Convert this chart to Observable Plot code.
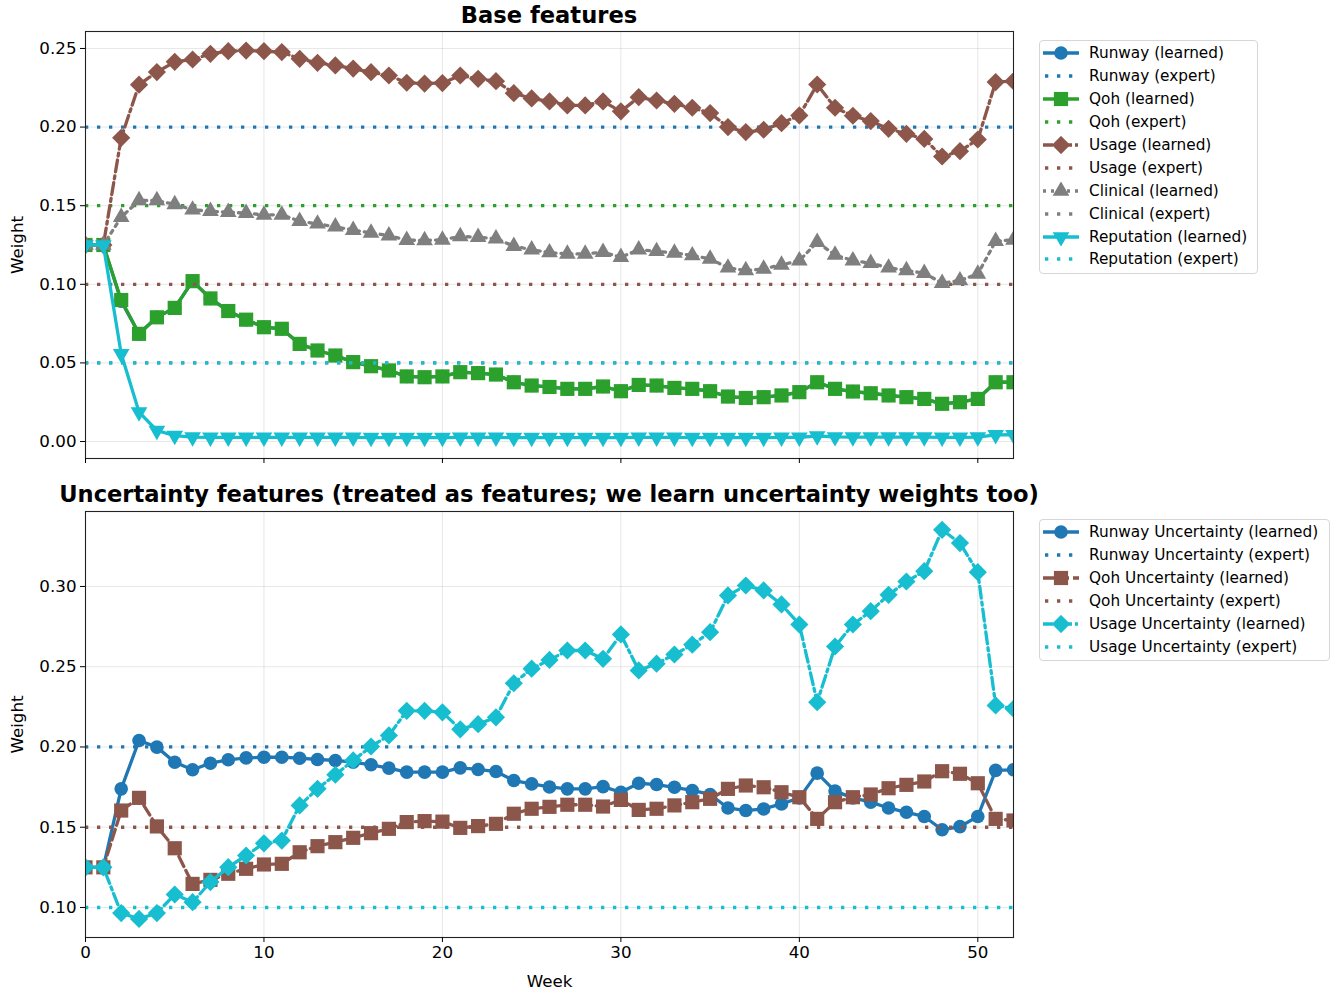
<!DOCTYPE html>
<html><head><meta charset="utf-8">
<script src="https://cdn.jsdelivr.net/npm/d3@7"></script>
<script src="https://cdn.jsdelivr.net/npm/@observablehq/plot@0.6"></script>
<style>
body{margin:0;background:#fff;font-family:"DejaVu Sans",sans-serif;}
#wrap{position:relative;width:1337px;height:994px;overflow:hidden;background:#fff;}
#wrap > svg, #wrap > figure{position:absolute;left:0;margin:0;}
.title{position:absolute;font-weight:bold;font-size:22.6px;white-space:nowrap;transform:translate(-50%,-50%);line-height:1;}
.legend{position:absolute;border:1px solid #d6d6d6;border-radius:4px;background:rgba(255,255,255,0.8);box-sizing:border-box;padding-top:1px;}
.row{display:flex;align-items:center;height:22.9px;font-size:15.3px;white-space:nowrap;color:#000;}
.row svg{margin-left:3px;margin-right:10px;flex:none;}
</style></head><body><div id="wrap"></div>
<script>
const weeks = [0,1,2,3,4,5,6,7,8,9,10,11,12,13,14,15,16,17,18,19,20,21,22,23,24,25,26,27,28,29,30,31,32,33,34,35,36,37,38,39,40,41,42,43,44,45,46,47,48,49,50,51,52];

// Base features (learned)
const runwayLearned = [0.125,0.125,0.0893,0.0685,0.079,0.085,0.102,0.091,0.083,0.0775,0.0727,0.0717,0.0621,0.0579,0.0547,0.0505,0.0479,0.0452,0.0414,0.0409,0.0414,0.0441,0.0435,0.0426,0.0377,0.0356,0.0347,0.0335,0.0335,0.035,0.032,0.036,0.0356,0.0341,0.0335,0.032,0.0286,0.0277,0.0282,0.0293,0.0314,0.0377,0.0335,0.0318,0.0307,0.0293,0.0282,0.0271,0.024,0.025,0.0271,0.0377,0.0377];
const qohLearned = [0.125,0.125,0.090,0.0685,0.079,0.085,0.102,0.091,0.083,0.0775,0.0727,0.0717,0.0621,0.0579,0.0547,0.0505,0.0479,0.0452,0.0414,0.0409,0.0414,0.0441,0.0435,0.0426,0.0377,0.0356,0.0347,0.0335,0.0335,0.035,0.032,0.036,0.0356,0.0341,0.0335,0.032,0.0286,0.0277,0.0282,0.0293,0.0314,0.0377,0.0335,0.0318,0.0307,0.0293,0.0282,0.0271,0.024,0.025,0.0271,0.0377,0.0377];
const usageLearned = [0.125,0.125,0.1932,0.227,0.235,0.2415,0.243,0.2466,0.2483,0.2487,0.2483,0.2477,0.2434,0.2409,0.2392,0.2372,0.2349,0.2328,0.2282,0.2277,0.228,0.2328,0.2307,0.2292,0.2216,0.2182,0.2163,0.2138,0.2138,0.2163,0.2100,0.219,0.2169,0.2148,0.2123,0.2089,0.2000,0.1968,0.1983,0.2025,0.2074,0.2271,0.2123,0.2072,0.2038,0.1989,0.1957,0.1925,0.1813,0.1847,0.1921,0.2286,0.2292];
const clinicalLearned = [0.125,0.125,0.1427,0.1533,0.1533,0.1508,0.1474,0.1465,0.1459,0.1452,0.1442,0.1442,0.1401,0.1385,0.1366,0.1345,0.1327,0.131,0.1281,0.1279,0.1283,0.1304,0.13,0.129,0.1243,0.122,0.1202,0.1193,0.1193,0.1204,0.1172,0.122,0.121,0.12,0.1183,0.1162,0.1105,0.1088,0.1098,0.1124,0.1151,0.1268,0.1187,0.1151,0.1134,0.1105,0.1088,0.1071,0.1007,0.1024,0.1066,0.1274,0.1283];
const reputationLearned = [0.125,0.125,0.0558,0.0187,0.007,0.0038,0.0028,0.0027,0.0027,0.0026,0.0026,0.0026,0.0026,0.0026,0.0026,0.0026,0.0025,0.0025,0.0025,0.0025,0.0025,0.0026,0.0026,0.0026,0.0025,0.0025,0.0025,0.0025,0.0025,0.0025,0.0025,0.0026,0.0026,0.0026,0.0025,0.0025,0.0025,0.0025,0.0025,0.0026,0.0027,0.0035,0.0029,0.0028,0.0028,0.0028,0.0028,0.0028,0.0027,0.0027,0.0028,0.0042,0.0043];
// Base features (expert)
const baseExpert = {runway:0.20, qoh:0.15, usage:0.10, clinical:0.05, reputation:0.05};

// Uncertainty features (learned)
const runwayUncLearned = [0.125,0.125,0.1739,0.204,0.1999,0.1905,0.1858,0.1899,0.192,0.1932,0.1936,0.1936,0.193,0.1922,0.1916,0.1905,0.1889,0.1868,0.1843,0.1843,0.1843,0.187,0.186,0.1847,0.1791,0.177,0.1751,0.1739,0.1739,0.1753,0.1718,0.1774,0.1766,0.1749,0.1729,0.1704,0.162,0.1604,0.1614,0.1645,0.1683,0.1837,0.1725,0.1683,0.1656,0.162,0.1593,0.1567,0.1484,0.1504,0.1567,0.1854,0.1858];
const qohUncLearned = [0.125,0.125,0.1604,0.1683,0.1505,0.1369,0.1147,0.1172,0.121,0.1241,0.1268,0.1272,0.1344,0.1382,0.1407,0.1434,0.1463,0.149,0.1532,0.1538,0.1535,0.1496,0.1507,0.1521,0.1584,0.1615,0.1627,0.164,0.164,0.1629,0.167,0.1608,0.1615,0.1636,0.1656,0.1677,0.1739,0.176,0.1749,0.1718,0.1687,0.1552,0.1656,0.1687,0.1704,0.1743,0.1764,0.1785,0.1849,0.1833,0.1774,0.1552,0.1542];
const usageUncLearned = [0.125,0.125,0.0965,0.0929,0.0965,0.1081,0.1033,0.1158,0.1251,0.1324,0.14,0.1417,0.1636,0.1739,0.1827,0.1916,0.2003,0.2072,0.2225,0.2225,0.2216,0.211,0.2142,0.2185,0.2397,0.2488,0.2542,0.2601,0.2601,0.2549,0.2701,0.2477,0.2519,0.2576,0.2637,0.2715,0.2944,0.3006,0.2975,0.2888,0.2763,0.2279,0.2626,0.2763,0.2846,0.2948,0.3031,0.3095,0.3353,0.327,0.3089,0.2259,0.2238];
// Uncertainty features (expert)
const uncExpert = {runway:0.20, qoh:0.15, usage:0.10};

const xTicks = [0,10,20,30,40,50];
const yTicksTop = [0,0.05,0.10,0.15,0.20,0.25];
const yTicksBottom = [0.10,0.15,0.20,0.25,0.30];

const C = {blue:"#1f77b4", green:"#2ca02c", brown:"#8c564b", gray:"#7f7f7f", cyan:"#17becf"};
const LW = 3.3;
const DASH = {solid:null, dashdot:"12,4,3,4", dotted:"3,5", dashed:"11,4.5"};
const EXPERT_DASH = "3.3,8.7";
const SYM = {circle:{symbol:"circle", r:6.8}, square:{symbol:"square", r:8.0}, diamond:{symbol:"diamond2", r:8.2}, tri:{symbol:"triangle", r:6.2, rotate:0}, triDown:{symbol:"triangle", r:6.2, rotate:180}};

const baseSeries = [
  {name:"Runway", vals:runwayLearned, color:C.blue, dash:"solid", sym:"circle", expert:baseExpert.runway},
  {name:"Qoh", vals:qohLearned, color:C.green, dash:"solid", sym:"square", expert:baseExpert.qoh},
  {name:"Usage", vals:usageLearned, color:C.brown, dash:"dashdot", sym:"diamond", expert:baseExpert.usage},
  {name:"Clinical", vals:clinicalLearned, color:C.gray, dash:"dotted", sym:"tri", expert:baseExpert.clinical},
  {name:"Reputation", vals:reputationLearned, color:C.cyan, dash:"solid", sym:"triDown", expert:baseExpert.reputation}
];
const uncSeries = [
  {name:"Runway Uncertainty", vals:runwayUncLearned, color:C.blue, dash:"solid", sym:"circle", expert:uncExpert.runway},
  {name:"Qoh Uncertainty", vals:qohUncLearned, color:C.brown, dash:"dashed", sym:"square", expert:uncExpert.qoh},
  {name:"Usage Uncertainty", vals:usageUncLearned, color:C.cyan, dash:"dashdot", sym:"diamond", expert:uncExpert.usage}
];

function seriesMarks(series) {
  const marks = [];
  for (const s of series) {
    const data = weeks.map((w, i) => ({week: w, weight: s.vals[i]}));
    marks.push(Plot.line(data, {x:"week", y:"weight", stroke:s.color, strokeWidth:LW, strokeDasharray:DASH[s.dash], strokeLinejoin:"round", clip:true}));
    const sy = SYM[s.sym];
    marks.push(Plot.dot(data, {x:"week", y:"weight", symbol:sy.symbol, r:sy.r, rotate:sy.rotate ?? 0, fill:s.color, stroke:"none", clip:true}));
    marks.push(Plot.ruleY([s.expert], {stroke:s.color, strokeWidth:3.3, strokeDasharray:EXPERT_DASH}));
  }
  return marks;
}

const W = 1030;
const common = {
  width: W, marginLeft: 85, marginRight: W - 1013,
  x: {domain:[0,52]},
  style: {fontFamily:"DejaVu Sans", fontSize:"16.7px", background:"transparent", overflow:"visible", color:"#000"}
};

const topPlot = Plot.plot({
  ...common,
  height: 470, marginTop: 31, marginBottom: 12,
  y: {domain:[-0.0108, 0.2608]},
  marks: [
    Plot.gridX({ticks:xTicks, stroke:"#b0b0b0", strokeOpacity:0.3, strokeWidth:1}),
    Plot.gridY({ticks:yTicksTop, stroke:"#b0b0b0", strokeOpacity:0.3, strokeWidth:1}),
    ...seriesMarks(baseSeries),
    Plot.frame({stroke:"#222", strokeWidth:1.1}),
    Plot.axisY({ticks:yTicksTop, tickFormat:d3.format(".2f"), tickSize:5, tickPadding:4, label:"Weight", labelAnchor:"center", labelArrow:"none", labelOffset:74, fontSize:16.7}),
    Plot.axisX({ticks:xTicks, tickFormat:() => "", tickSize:5, label:null})
  ]
});

const botPlot = Plot.plot({
  ...common,
  height: 514, marginTop: 31, marginBottom: 57,
  y: {domain:[0.0813, 0.3467]},
  marks: [
    Plot.gridX({ticks:xTicks, stroke:"#b0b0b0", strokeOpacity:0.3, strokeWidth:1}),
    Plot.gridY({ticks:yTicksBottom, stroke:"#b0b0b0", strokeOpacity:0.3, strokeWidth:1}),
    ...seriesMarks(uncSeries),
    Plot.frame({stroke:"#222", strokeWidth:1.1}),
    Plot.axisY({ticks:yTicksBottom, tickFormat:d3.format(".2f"), tickSize:5, tickPadding:4, label:"Weight", labelAnchor:"center", labelArrow:"none", labelOffset:74, fontSize:16.7}),
    Plot.axisX({ticks:xTicks, tickFormat:d3.format("d"), tickSize:5, tickPadding:4, label:"Week", labelAnchor:"center", labelArrow:"none", labelOffset:49, fontSize:16.7})
  ]
});

const wrap = document.getElementById("wrap");
topPlot.style.top = "0px";
botPlot.style.top = "480px";
wrap.appendChild(topPlot);
wrap.appendChild(botPlot);

function addTitle(text, x, y) {
  const d = document.createElement("div");
  d.className = "title"; d.textContent = text;
  d.style.left = x + "px"; d.style.top = y + "px";
  wrap.appendChild(d);
}
addTitle("Base features", 549, 15);
addTitle("Uncertainty features (treated as features; we learn uncertainty weights too)", 549, 494);

function swatch(s, expert) {
  const svg = d3.create("svg").attr("width", 36).attr("height", 18);
  if (expert) {
    svg.append("line").attr("x1",2).attr("x2",36).attr("y1",9).attr("y2",9)
      .attr("stroke", s.color).attr("stroke-width",3.3).attr("stroke-dasharray", EXPERT_DASH);
  } else {
    const ln = svg.append("line").attr("x1",0).attr("x2",36).attr("y1",9).attr("y2",9)
      .attr("stroke", s.color).attr("stroke-width",LW);
    if (DASH[s.dash]) ln.attr("stroke-dasharray", s.dash === "dashdot" ? "10,3,3,3" : s.dash === "dotted" ? "3,5" : "11,4");
    const sy = SYM[s.sym];
    const type = {circle:d3.symbolCircle, square:d3.symbolSquare, diamond2:d3.symbolDiamond2, triangle:d3.symbolTriangle}[sy.symbol];
    svg.append("path").attr("d", d3.symbol(type, Math.PI * sy.r * sy.r)())
      .attr("transform", `translate(18,9) rotate(${sy.rotate || 0})`).attr("fill", s.color);
  }
  return svg.node();
}

function addLegend(series, left, top, width, height) {
  const box = document.createElement("div");
  box.className = "legend";
  box.style.left = left + "px"; box.style.top = top + "px";
  box.style.width = width + "px"; box.style.height = height + "px";
  for (const s of series) {
    for (const expert of [false, true]) {
      const row = document.createElement("div");
      row.className = "row";
      row.appendChild(swatch(s, expert));
      const t = document.createElement("span");
      t.textContent = `${s.name} (${expert ? "expert" : "learned"})`;
      row.appendChild(t);
      box.appendChild(row);
    }
  }
  wrap.appendChild(box);
}
addLegend(baseSeries, 1039, 40, 219, 234);
addLegend(uncSeries, 1039, 519, 291, 142);
</script></body></html>
